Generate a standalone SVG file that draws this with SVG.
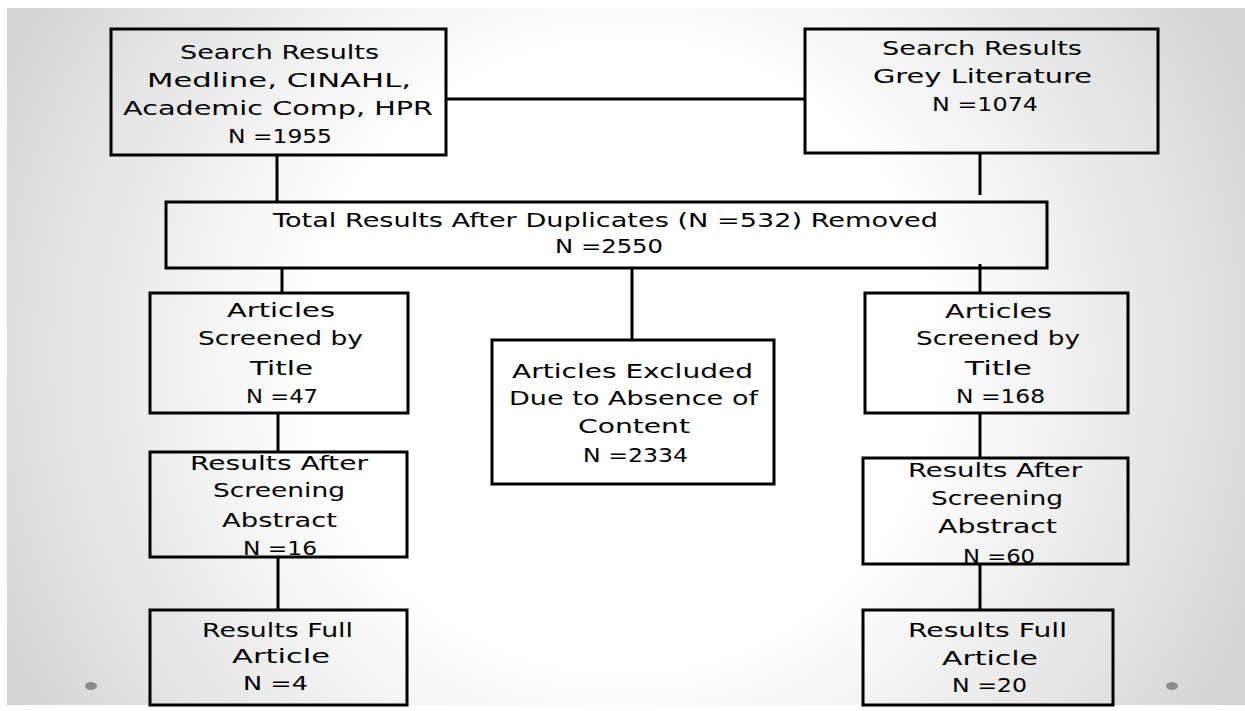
<svg xmlns="http://www.w3.org/2000/svg" width="1245" height="711" viewBox="0 0 1245 711">
  <defs>
    <radialGradient id="bgGrad" gradientUnits="userSpaceOnUse" cx="622" cy="356" r="700">
      <stop offset="0" stop-color="#ffffff"/>
      <stop offset="0.45" stop-color="#ffffff"/>
      <stop offset="1" stop-color="#d4d4d4"/>
    </radialGradient>
  </defs>
  <style>
    .box { fill: none; stroke: #000; stroke-width: 3; }
    .link { stroke: #000; stroke-width: 3; fill: none; }
    .lbl { font-family: "DejaVu Sans", Verdana, sans-serif; font-size: 19px; fill: #000; text-anchor: middle; }
    .dot { fill: #8c8c8c; }
  </style>

  <!-- page backdrop -->
  <rect x="0" y="0" width="1245" height="711" fill="#ffffff"/>
  <rect x="7" y="8" width="1238" height="697" fill="url(#bgGrad)"/>
  <ellipse class="dot" cx="91" cy="686" rx="6" ry="4"/>
  <ellipse class="dot" cx="1172" cy="686" rx="6" ry="4"/>

  <!-- connectors -->
  <g id="connectors">
    <line class="link" x1="446" y1="99" x2="805" y2="99"/>
    <line class="link" x1="277" y1="155" x2="277" y2="202"/>
    <line class="link" x1="980" y1="153" x2="980" y2="195"/>
    <line class="link" x1="282" y1="268" x2="282" y2="293"/>
    <line class="link" x1="632" y1="268" x2="632" y2="340"/>
    <line class="link" x1="980" y1="264" x2="980" y2="293"/>
    <line class="link" x1="278" y1="413" x2="278" y2="452"/>
    <line class="link" x1="278" y1="557" x2="278" y2="610"/>
    <line class="link" x1="980" y1="413" x2="980" y2="458"/>
    <line class="link" x1="980" y1="564" x2="980" y2="610"/>
  </g>

  <g id="search-databases">
    <rect class="box" x="111" y="29" width="335" height="126"/>
    <text class="lbl" x="279.5" y="59" textLength="199" lengthAdjust="spacingAndGlyphs">Search Results</text>
    <text class="lbl" x="279" y="87" textLength="264" lengthAdjust="spacingAndGlyphs">Medline, CINAHL,</text>
    <text class="lbl" x="278" y="115" textLength="310" lengthAdjust="spacingAndGlyphs">Academic Comp, HPR</text>
    <text class="lbl" x="280" y="143" textLength="104" lengthAdjust="spacingAndGlyphs">N =1955</text>
  </g>

  <g id="search-grey">
    <rect class="box" x="805" y="29" width="353" height="124"/>
    <text class="lbl" x="982" y="55" textLength="200" lengthAdjust="spacingAndGlyphs">Search Results</text>
    <text class="lbl" x="982.5" y="83" textLength="219" lengthAdjust="spacingAndGlyphs">Grey Literature</text>
    <text class="lbl" x="985" y="111" textLength="106" lengthAdjust="spacingAndGlyphs">N =1074</text>
  </g>

  <g id="total-results">
    <rect class="box" x="166" y="202" width="881" height="66"/>
    <text class="lbl" x="605.5" y="227" textLength="665" lengthAdjust="spacingAndGlyphs">Total Results After Duplicates (N =532) Removed</text>
    <text class="lbl" x="609" y="253" textLength="108" lengthAdjust="spacingAndGlyphs">N =2550</text>
  </g>

  <g id="excluded">
    <rect class="box" x="492" y="340" width="282" height="144"/>
    <text class="lbl" x="632.5" y="378" textLength="241" lengthAdjust="spacingAndGlyphs">Articles Excluded</text>
    <text class="lbl" x="633.5" y="405" textLength="249" lengthAdjust="spacingAndGlyphs">Due to Absence of</text>
    <text class="lbl" x="634" y="433" textLength="112" lengthAdjust="spacingAndGlyphs">Content</text>
    <text class="lbl" x="635.5" y="462" textLength="105" lengthAdjust="spacingAndGlyphs">N =2334</text>
  </g>

  <g id="title-left">
    <rect class="box" x="150" y="293" width="258" height="120"/>
    <text class="lbl" x="281" y="317" textLength="108" lengthAdjust="spacingAndGlyphs">Articles</text>
    <text class="lbl" x="280.5" y="345" textLength="165" lengthAdjust="spacingAndGlyphs">Screened by</text>
    <text class="lbl" x="281.5" y="375" textLength="63" lengthAdjust="spacingAndGlyphs">Title</text>
    <text class="lbl" x="282" y="403" textLength="72" lengthAdjust="spacingAndGlyphs">N =47</text>
  </g>

  <g id="abstract-left">
    <rect class="box" x="150" y="452" width="257" height="105"/>
    <text class="lbl" x="279" y="470" textLength="178" lengthAdjust="spacingAndGlyphs">Results After</text>
    <text class="lbl" x="279" y="497" textLength="132" lengthAdjust="spacingAndGlyphs">Screening</text>
    <text class="lbl" x="279.5" y="527" textLength="115" lengthAdjust="spacingAndGlyphs">Abstract</text>
    <text class="lbl" x="280" y="555" textLength="74" lengthAdjust="spacingAndGlyphs">N =16</text>
  </g>

  <g id="full-left">
    <rect class="box" x="150" y="610" width="257" height="95"/>
    <text class="lbl" x="277.5" y="637" textLength="151" lengthAdjust="spacingAndGlyphs">Results Full</text>
    <text class="lbl" x="281" y="663" textLength="98" lengthAdjust="spacingAndGlyphs">Article</text>
    <text class="lbl" x="275.5" y="690" textLength="65" lengthAdjust="spacingAndGlyphs">N =4</text>
  </g>

  <g id="title-right">
    <rect class="box" x="865" y="293" width="263" height="120"/>
    <text class="lbl" x="998.5" y="318" textLength="107" lengthAdjust="spacingAndGlyphs">Articles</text>
    <text class="lbl" x="998" y="345" textLength="164" lengthAdjust="spacingAndGlyphs">Screened by</text>
    <text class="lbl" x="998.5" y="375" textLength="67" lengthAdjust="spacingAndGlyphs">Title</text>
    <text class="lbl" x="1000.5" y="403" textLength="89" lengthAdjust="spacingAndGlyphs">N =168</text>
  </g>

  <g id="abstract-right">
    <rect class="box" x="863" y="458" width="265" height="106"/>
    <text class="lbl" x="995" y="477" textLength="174" lengthAdjust="spacingAndGlyphs">Results After</text>
    <text class="lbl" x="997" y="505" textLength="132" lengthAdjust="spacingAndGlyphs">Screening</text>
    <text class="lbl" x="997.5" y="533" textLength="119" lengthAdjust="spacingAndGlyphs">Abstract</text>
    <text class="lbl" x="999" y="563" textLength="72" lengthAdjust="spacingAndGlyphs">N =60</text>
  </g>

  <g id="full-right">
    <rect class="box" x="863" y="610" width="250" height="95"/>
    <text class="lbl" x="987.5" y="637" textLength="159" lengthAdjust="spacingAndGlyphs">Results Full</text>
    <text class="lbl" x="990" y="665" textLength="96" lengthAdjust="spacingAndGlyphs">Article</text>
    <text class="lbl" x="989.5" y="692" textLength="75" lengthAdjust="spacingAndGlyphs">N =20</text>
  </g>
</svg>
